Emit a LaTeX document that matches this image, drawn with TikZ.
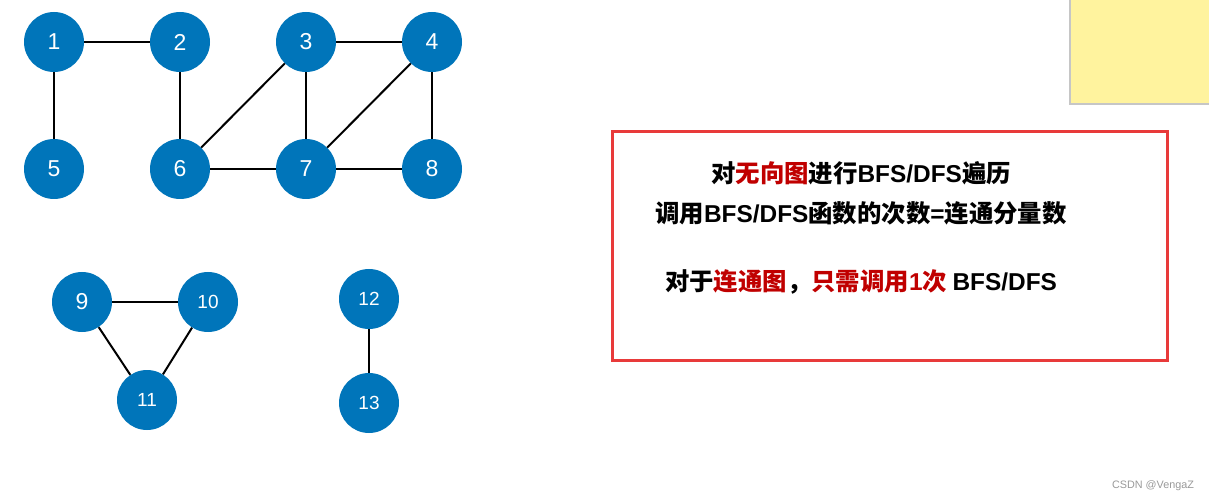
\documentclass[tikz,border=0pt]{standalone}
\usepackage{fontspec}
\setmainfont{Liberation Sans}
\newfontfamily\cjk{Noto Sans CJK SC}
\newfontfamily\latn{Liberation Sans}
\definecolor{nodeblue}{RGB}{0,117,186}
\definecolor{boxred}{RGB}{232,58,58}
\definecolor{txtred}{RGB}{192,0,0}
\definecolor{notey}{RGB}{255,243,158}
\newcommand{\lat}[1]{{\latn\bfseries #1}}
\newcommand{\rd}[1]{\textcolor{txtred}{#1}}

\begin{document}
\begin{tikzpicture}[x=1pt,y=-1pt,
  vert/.style={circle,fill=nodeblue,minimum size=60pt,inner sep=0pt,text=white,font=\fontsize{23}{23}\selectfont},
  vsmall/.style={vert,font=\fontsize{19}{19}\selectfont},
  edge/.style={line width=2pt},
  line/.style={font=\cjk\bfseries\fontsize{24.4}{24.4}\selectfont,inner sep=0pt}]
\useasboundingbox (0,0) rectangle (1209,502);
% first component
\node[vert] (v1) at (54,42) {1};
\node[vert] (v2) at (180,42) {2};
\node[vert] (v3) at (306,42) {3};
\node[vert] (v4) at (432,42) {4};
\node[vert] (v5) at (54,169) {5};
\node[vert] (v6) at (180,169) {6};
\node[vert] (v7) at (306,169) {7};
\node[vert] (v8) at (432,169) {8};
\draw[edge] (v1)--(v2);
\draw[edge] (v1)--(v5);
\draw[edge] (v2)--(v6);
\draw[edge] (v3)--(v4);
\draw[edge] (v3)--(v6);
\draw[edge] (v3)--(v7);
\draw[edge] (v4)--(v7);
\draw[edge] (v4)--(v8);
\draw[edge] (v6)--(v7);
\draw[edge] (v7)--(v8);
% triangle
\node[vert] (v9) at (82,302) {9};
\node[vsmall] (v10) at (208,302) {10};
\node[vsmall] (v11) at (147,400) {11};
\draw[edge] (v9)--(v10);
\draw[edge] (v9)--(v11);
\draw[edge] (v10)--(v11);
% pair
\node[vsmall] (v12) at (369,299) {12};
\node[vsmall] (v13) at (369,403) {13};
\draw[edge] (v12)--(v13);
% note in the corner
\fill[gray!45] (1069,0) rectangle (1209,105);
\fill[notey] (1071,0) rectangle (1209,103);
% text box
\draw[boxred,line width=3pt] (612,132) rectangle (1167,360);
\node[line] (l1) at (861,173) {对\rd{无向图}进行\lat{BFS/DFS}遍历};
\node[line] (l2) at (861,213) {调用\lat{BFS/DFS}函数的次数\lat{=}连通分量数};
\node[line] (l3) at (861,282) {对于\rd{连通图}，\rd{只需调用\lat{1}次} \lat{BFS/DFS}};
\node[text=gray!80,font=\fontsize{10.8}{10.8}\selectfont] (mark) at (1153,486) {CSDN @VengaZ};
\end{tikzpicture}
\end{document}
